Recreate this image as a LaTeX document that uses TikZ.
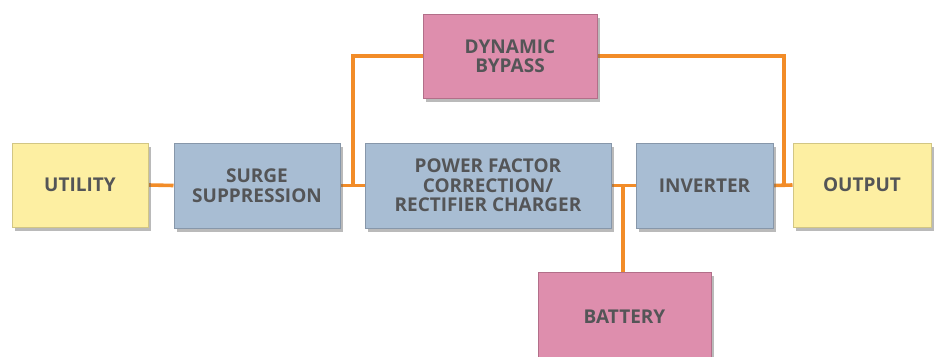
\documentclass[tikz,border=0pt]{standalone}
\usepackage{fontspec}
\setmainfont{Open Sans}
\usetikzlibrary{shadows,backgrounds}
\definecolor{yfill}{HTML}{FDEFA2}
\definecolor{ydraw}{HTML}{D2C684}
\definecolor{bfill}{HTML}{A8BDD3}
\definecolor{bdraw}{HTML}{8797AA}
\definecolor{pfill}{HTML}{DE8EAD}
\definecolor{pdraw}{HTML}{B26F89}
\definecolor{wire}{HTML}{F28C28}
\definecolor{txt}{HTML}{545557}
\tikzset{
  box/.style={rectangle, draw, line width=1pt, inner sep=0pt, align=center,
    font=\fontsize{19}{19.5}\selectfont\bfseries, text=txt,
    drop shadow={opacity=0.45, shadow xshift=3pt, shadow yshift=-4pt, fill=black!60}},
  ybox/.style={box, fill=yfill, draw=ydraw},
  bbox/.style={box, fill=bfill, draw=bdraw},
  pbox/.style={box, fill=pfill, draw=pdraw},
  wireline/.style={draw=wire, line width=3.6pt}
}
\begin{document}
\begin{tikzpicture}[x=1pt,y=-1pt]
\useasboundingbox (0,0) rectangle (941,356);
\clip (0,0) rectangle (941,356);
\node[ybox, minimum width=136pt, minimum height=84pt] (utility) at (80,185) {UTILITY};
\node[bbox, minimum width=166pt, minimum height=85pt] (surge) at (257,185.5) {SURGE\\SUPPRESSION};
\node[bbox, minimum width=246pt, minimum height=85pt] (pfc) at (488,185.5) {POWER FACTOR\\CORRECTION/\\RECTIFIER CHARGER};
\node[bbox, minimum width=137pt, minimum height=85pt] (inverter) at (704.5,185.5) {INVERTER};
\node[ybox, minimum width=138pt, minimum height=84pt] (output) at (862,185) {OUTPUT};
\node[pbox, minimum width=174pt, minimum height=84pt] (bypass) at (510,56) {DYNAMIC\\BYPASS};
\node[pbox, minimum width=173pt, minimum height=90pt] (battery) at (624.5,317) {BATTERY};
\coordinate (j1) at (353,185.5);
\coordinate (j2) at (784,185.5);
\coordinate (j3) at (623,185.5);
\begin{pgfonlayer}{background}
\draw[wireline] (utility.east) -- (surge.west);
\draw[wireline] (surge.east) -- (pfc.west);
\draw[wireline] (pfc.east) -- (inverter.west);
\draw[wireline] (inverter.east) -- (output.west);
\draw[wireline] (j1) |- (bypass.west);
\draw[wireline] (bypass.east) -| (j2);
\draw[wireline] (j3) -- (battery.north -| j3);
\end{pgfonlayer}
\end{tikzpicture}
\end{document}
